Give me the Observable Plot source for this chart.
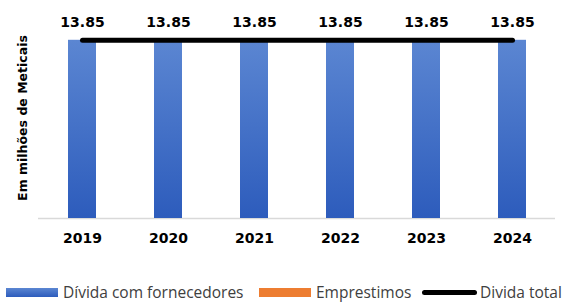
<!DOCTYPE html>
<html>
<head>
<meta charset="utf-8">
<script src="https://cdn.jsdelivr.net/npm/d3@7"></script>
<script src="https://cdn.jsdelivr.net/npm/@observablehq/plot@0.6"></script>
<style>
  html, body { margin: 0; padding: 0; background: #fff; }
  body { width: 565px; height: 303px; overflow: hidden; font-family: "Open Sans", sans-serif; }
  #legend { position: relative; height: 33px; font-size: 15.5px; color: #404040; }
  #legend .sw { position: absolute; }
  #legend .tx { position: absolute; top: 12px; line-height: 20px; white-space: nowrap; }
</style>
</head>
<body>
<div id="chart"></div>
<div id="legend"></div>
<script>
const years = ["2019", "2020", "2021", "2022", "2023", "2024"];
const fornecedores = [13.85, 13.85, 13.85, 13.85, 13.85, 13.85];
const emprestimos = [0, 0, 0, 0, 0, 0];
const dividaTotal = [13.85, 13.85, 13.85, 13.85, 13.85, 13.85];
const labels = ["13.85", "13.85", "13.85", "13.85", "13.85", "13.85"];
const yTitle = "Em milhões de Meticais";
const seriesNames = ["Dívida com fornecedores", "Emprestimos", "Divida total"];
const colors = { blueTop: "#5b86d2", blueBottom: "#2d5cbc", orange: "#ed7d31", line: "#000000" };

const data = years.map((y, i) => ({
  year: y, forn: fornecedores[i], emp: emprestimos[i], total: dividaTotal[i], label: labels[i]
}));

const boldFont = "'DejaVu Sans', sans-serif";

const chart = Plot.plot({
  width: 565,
  height: 270,
  marginLeft: 38,
  marginRight: 10,
  marginTop: 25,
  marginBottom: 52,
  style: { fontFamily: boldFont, background: "#fff" },
  x: { domain: years, paddingInner: 0.68, paddingOuter: 0.34, label: null },
  y: { domain: [0, 15], axis: null },
  marks: [
    Plot.ruleY([0], { stroke: "#d9d9d9", strokeWidth: 1.5 }),
    Plot.barY(data, { x: "year", y: "forn", fill: "url(#blueGrad)" }),
    Plot.barY(data, { x: "year", y: "emp", fill: colors.orange }),
    Plot.line(data, { x: "year", y: "total", stroke: colors.line, strokeWidth: 5, strokeLinecap: "round" }),
    Plot.text(data, { x: "year", y: "total", text: "label", dy: -18, fontSize: 14, fontWeight: "bold", fill: "#000" }),
    Plot.axisX({ tickSize: 0, tickPadding: 15, fontSize: 14, fontWeight: "bold", label: null, color: "#000" }),
    Plot.text([yTitle], { frameAnchor: "left", textAnchor: "middle", rotate: -90, dx: -16, dy: -4, fontSize: 12.5, fontWeight: "bold", fill: "#000" })
  ]
});

const svg = d3.select(chart);
const defs = svg.insert("defs", ":first-child");
const g = defs.append("linearGradient").attr("id", "blueGrad").attr("x1", 0).attr("y1", 0).attr("x2", 0).attr("y2", 1);
g.append("stop").attr("offset", "0%").attr("stop-color", colors.blueTop);
g.append("stop").attr("offset", "100%").attr("stop-color", colors.blueBottom);
document.getElementById("chart").appendChild(chart);

// legend
const lg = d3.select("#legend");
const legendItems = [
  { name: seriesNames[0], kind: "rect", color: colors.blueBottom, x: 6, w: 52, tx: 63 },
  { name: seriesNames[1], kind: "rect", color: colors.orange, x: 259, w: 52, tx: 316 },
  { name: seriesNames[2], kind: "line", color: colors.line, x: 422, w: 55, tx: 480 }
];
legendItems.forEach(it => {
  if (it.kind === "rect") {
    lg.append("div").attr("class", "sw")
      .style("left", it.x + "px").style("top", "18px").style("width", it.w + "px").style("height", "9px")
      .style("background", it.name === seriesNames[0] ? `linear-gradient(${colors.blueTop}, ${colors.blueBottom})` : it.color);
  } else {
    lg.append("div").attr("class", "sw")
      .style("left", it.x + "px").style("top", "20px").style("width", it.w + "px").style("height", "5px")
      .style("border-radius", "3px").style("background", it.color);
  }
  lg.append("div").attr("class", "tx").style("left", it.tx + "px").text(it.name);
});
</script>
</body>
</html>
